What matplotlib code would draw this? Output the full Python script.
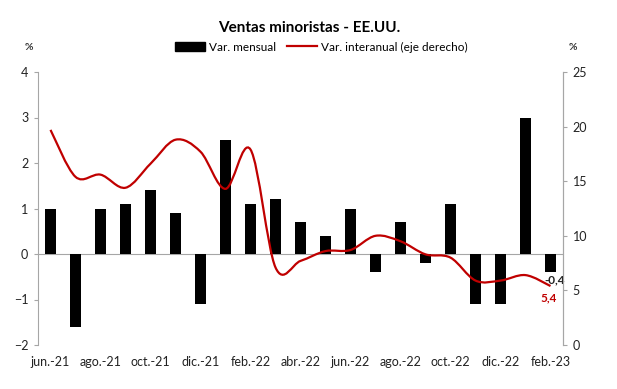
import numpy as np
import matplotlib
matplotlib.use("Agg")
import matplotlib.pyplot as plt
from matplotlib.path import Path
from matplotlib.patches import PathPatch, Rectangle
from matplotlib.lines import Line2D

plt.rcParams['font.family'] = ['Lato', 'DejaVu Sans']

months = ['jun.-21', 'jul.-21', 'ago.-21', 'sep.-21', 'oct.-21', 'nov.-21',
          'dic.-21', 'ene.-22', 'feb.-22', 'mar.-22', 'abr.-22', 'may.-22',
          'jun.-22', 'jul.-22', 'ago.-22', 'sep.-22', 'oct.-22', 'nov.-22',
          'dic.-22', 'ene.-23', 'feb.-23']
mensual = [1.0, -1.6, 1.0, 1.1, 1.4, 0.9, -1.1, 2.5, 1.1, 1.2, 0.7, 0.4,
           1.0, -0.4, 0.7, -0.2, 1.1, -1.1, -1.1, 3.0, -0.4]
interanual = [19.7, 15.4, 15.6, 14.4, 16.6, 18.8, 17.7, 14.3, 17.9, 7.1, 7.7,
              8.6, 8.7, 10.0, 9.5, 8.3, 8.0, 5.9, 5.9, 6.4, 5.4]

RED = '#c00000'
GRAY = '#a6a6a6'


def smooth_path(xs, ys, t=1 / 6):
    # Excel-like smoothed line: Catmull-Rom segments drawn as cubic Beziers
    pts = np.column_stack([xs, ys])
    n = len(pts)
    verts = [pts[0]]
    codes = [Path.MOVETO]
    for i in range(n - 1):
        p0 = pts[max(i - 1, 0)]
        p1 = pts[i]
        p2 = pts[i + 1]
        p3 = pts[min(i + 2, n - 1)]
        c1 = p1 + (p2 - p0) * t
        c2 = p2 - (p3 - p1) * t
        verts += [c1, c2, p2]
        codes += [Path.CURVE4] * 3
    return Path(verts, codes)


fig = plt.figure(figsize=(6.17, 3.89), dpi=100)
ax = fig.add_axes([38 / 617, 1 - 345 / 389, (563 - 38) / 617, (345 - 72) / 389])
x = np.arange(len(months))

ax.bar(x, mensual, width=0.44, color='black', zorder=2)
ax.axhline(0, color=GRAY, lw=0.8, zorder=1)
ax.set_xlim(-0.5, len(months) - 0.5)
ax.set_ylim(-2, 4)
ax.set_yticks(range(-2, 5))
ax.set_xticks(x[::2])
ax.set_xticklabels(months[::2])
ax.tick_params(axis='x', length=0, pad=8, labelsize=9, colors='#222222')
ax.tick_params(axis='y', length=3, labelsize=9, colors='#222222', pad=4)
ax.tick_params(axis='y', color=GRAY)
for s in ['top', 'bottom']:
    ax.spines[s].set_visible(False)
for s in ['left', 'right']:
    ax.spines[s].set_color(GRAY)
    ax.spines[s].set_linewidth(0.8)

ax2 = ax.twinx()
ax2.set_ylim(0, 25)
ax2.set_yticks(range(0, 26, 5))
ax2.tick_params(axis='y', length=3, labelsize=9, colors='#222222', pad=4)
ax2.tick_params(axis='y', color=GRAY)
for s in ['top', 'bottom', 'left']:
    ax2.spines[s].set_visible(False)
ax2.spines['right'].set_color(GRAY)
ax2.spines['right'].set_linewidth(0.8)
ax2.add_patch(PathPatch(smooth_path(x, interanual), facecolor='none',
                        edgecolor=RED, lw=1.6, zorder=3))

ax.annotate('-0,4', (x[-1], mensual[-1]), xytext=(3, -8),
            textcoords='offset points', ha='center', fontsize=8.5,
            fontweight='bold', color='#222222')
ax2.annotate('5,4', (x[-1], interanual[-1]), xytext=(-1, -11),
             textcoords='offset points', ha='center', fontsize=8.5,
             fontweight='bold', color=RED)

fig.text(309 / 617, 1 - 28 / 389, 'Ventas minoristas - EE.UU.', ha='center',
         va='center', fontsize=11, fontweight='bold')
fig.text(29 / 617, 1 - 48 / 389, '%', ha='center', va='center', fontsize=7.5,
         fontweight='bold', color='#333333')
fig.text(573 / 617, 1 - 48 / 389, '%', ha='center', va='center', fontsize=7.5,
         fontweight='bold', color='#333333')

handles = [Rectangle((0, 0), 1, 1, color='black'),
           Line2D([], [], color=RED, lw=1.6)]
fig.legend(handles, ['Var. mensual', 'Var. interanual (eje derecho)'],
           loc='center', bbox_to_anchor=(321 / 617, 1 - 47 / 389), ncol=2,
           frameon=False, fontsize=8.5, handlelength=2.6, handletextpad=0.3,
           columnspacing=0.9, handleheight=0.8)

fig.savefig('out.png', dpi=100, facecolor='white')
